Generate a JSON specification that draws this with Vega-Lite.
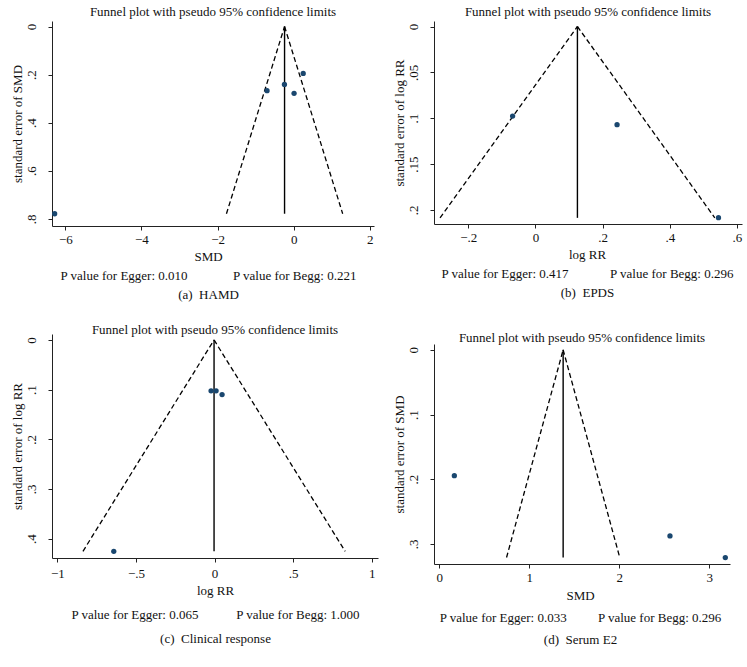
{
  "$schema": "https://vega.github.io/schema/vega-lite/v6.json",
  "padding": {"left": 11, "top": 6, "right": 2, "bottom": 2},
  "background": "white",
  "config": {
    "font": "Liberation Serif, Times New Roman, DejaVu Serif, serif",
    "view": {"stroke": null},
    "axis": {
      "grid": false,
      "domainColor": "#222222",
      "tickColor": "#222222",
      "labelColor": "#111111",
      "titleColor": "#111111",
      "labelFont": "Liberation Serif, Times New Roman, DejaVu Serif, serif",
      "titleFont": "Liberation Serif, Times New Roman, DejaVu Serif, serif",
      "labelFontSize": 13,
      "titleFontSize": 13,
      "titleFontWeight": "normal",
      "tickSize": 4,
      "domainWidth": 1,
      "tickWidth": 1,
      "labelPadding": 3
    },
    "axisY": {"labelAngle": 270, "labelAlign": "center", "labelBaseline": "bottom", "labelPadding": 10, "titlePadding": 1},
    "axisX": {"titlePadding": 4, "titleLineHeight": 19},
    "title": {"font": "Liberation Serif, Times New Roman, DejaVu Serif, serif", "fontSize": 13, "fontWeight": "normal", "color": "#111111", "anchor": "middle", "frame": "group", "offset": 2}
  },
  "datasets": {
    "a": [
      {"part": "pt", "x": -6.28, "se": 0.779},
      {"part": "pt", "x": -0.70, "se": 0.267},
      {"part": "pt", "x": -0.243, "se": 0.241},
      {"part": "pt", "x": 0.01, "se": 0.278},
      {"part": "pt", "x": 0.25, "se": 0.195},
      {"part": "L", "x": -0.24, "se": 0},
      {"part": "L", "x": -1.767, "se": 0.779},
      {"part": "R", "x": -0.24, "se": 0},
      {"part": "R", "x": 1.287, "se": 0.779},
      {"part": "M", "x": -0.24, "se": 0},
      {"part": "M", "x": -0.24, "se": 0.779}
    ],
    "b": [
      {"part": "pt", "x": -0.068, "se": 0.0977},
      {"part": "pt", "x": 0.243, "se": 0.107},
      {"part": "pt", "x": 0.545, "se": 0.2084},
      {"part": "L", "x": 0.125, "se": 0},
      {"part": "L", "x": -0.284, "se": 0.2086},
      {"part": "R", "x": 0.125, "se": 0},
      {"part": "R", "x": 0.534, "se": 0.2086},
      {"part": "M", "x": 0.125, "se": 0},
      {"part": "M", "x": 0.125, "se": 0.2086}
    ],
    "c": [
      {"part": "pt", "x": -0.022, "se": 0.1025},
      {"part": "pt", "x": 0.01, "se": 0.1025},
      {"part": "pt", "x": 0.048, "se": 0.11},
      {"part": "pt", "x": -0.641, "se": 0.4255},
      {"part": "L", "x": -0.003, "se": 0},
      {"part": "L", "x": -0.837, "se": 0.4255},
      {"part": "R", "x": -0.003, "se": 0},
      {"part": "R", "x": 0.831, "se": 0.4255},
      {"part": "M", "x": -0.003, "se": 0},
      {"part": "M", "x": -0.003, "se": 0.4255}
    ],
    "d": [
      {"part": "pt", "x": 0.167, "se": 0.1945},
      {"part": "pt", "x": 2.563, "se": 0.2876},
      {"part": "pt", "x": 3.178, "se": 0.321},
      {"part": "L", "x": 1.376, "se": 0},
      {"part": "L", "x": 0.747, "se": 0.321},
      {"part": "R", "x": 1.376, "se": 0},
      {"part": "R", "x": 2.005, "se": 0.321},
      {"part": "M", "x": 1.376, "se": 0},
      {"part": "M", "x": 1.376, "se": 0.321}
    ]
  },
  "spacing": 15,
  "hconcat": [
    {
      "spacing": 23,
      "vconcat": [
        {
          "width": 322, "height": 205,
          "title": {"text": "Funnel plot with pseudo 95% confidence limits"},
          "data": {"name": "a"},
          "encoding": {
            "x": {"field": "x", "type": "quantitative",
              "scale": {"domain": [-6.35, 2.11], "nice": false, "zero": false},
              "axis": {"values": [-6, -4, -2, 0, 2], "labelExpr": "replace(format(datum.value, '~g'), '0.', '.')",
                "title": ["SMD", "P value for Egger: 0.010\u2003\u2003\u2003\u2002P value for Begg: 0.221", "(a)\u2002HAMD\u2003\u2003\u2003"], "titleX": 156}},
            "y": {"field": "se", "type": "quantitative",
              "scale": {"domain": [-0.023, 0.83], "nice": false, "zero": false, "reverse": true},
              "axis": {"values": [0, 0.2, 0.4, 0.6, 0.8], "labelExpr": "replace(format(datum.value, '~g'), '0.', '.')", "title": "standard error of SMD"}}
          },
          "layer": [
            {"transform": [{"filter": "datum.part == 'L' || datum.part == 'R'"}],
             "mark": {"type": "line", "color": "black", "strokeWidth": 1.3, "strokeDash": [5, 3]},
             "encoding": {"detail": {"field": "part"}}},
            {"transform": [{"filter": "datum.part == 'M'"}],
             "mark": {"type": "line", "color": "black", "strokeWidth": 1.4}},
            {"transform": [{"filter": "datum.part == 'pt'"}],
             "mark": {"type": "circle", "color": "#1a476f", "size": 28, "opacity": 1}}
          ]
        },
        {
          "width": 326, "height": 224,
          "title": {"text": "Funnel plot with pseudo 95% confidence limits", "offset": -3},
          "data": {"name": "c"},
          "encoding": {
            "x": {"field": "x", "type": "quantitative",
              "scale": {"domain": [-1.034, 1.04], "nice": false, "zero": false},
              "axis": {"values": [-1, -0.5, 0, 0.5, 1], "labelExpr": "replace(format(datum.value, '~g'), '0.', '.')",
                "title": ["log RR", "P value for Egger: 0.065\u2003\u2003\u2002\u2009\u2009P value for Begg: 1.000", "(c)\u2002Clinical response\u2003\u2003\u2002"], "titleX": 163, "titleLineHeight": 24, "labelPadding": 5}},
            "y": {"field": "se", "type": "quantitative",
              "scale": {"domain": [-0.012, 0.439], "nice": false, "zero": false, "reverse": true},
              "axis": {"values": [0, 0.1, 0.2, 0.3, 0.4], "labelExpr": "replace(format(datum.value, '~g'), '0.', '.')", "title": "standard error of log RR"}}
          },
          "layer": [
            {"transform": [{"filter": "datum.part == 'L' || datum.part == 'R'"}],
             "mark": {"type": "line", "color": "black", "strokeWidth": 1.3, "strokeDash": [5, 3]},
             "encoding": {"detail": {"field": "part"}}},
            {"transform": [{"filter": "datum.part == 'M'"}],
             "mark": {"type": "line", "color": "black", "strokeWidth": 1.4}},
            {"transform": [{"filter": "datum.part == 'pt'"}],
             "mark": {"type": "circle", "color": "#1a476f", "size": 28, "opacity": 1}}
          ]
        }
      ]
    },
    {
      "spacing": 33,
      "vconcat": [
        {
          "width": 308, "height": 203,
          "title": {"text": "Funnel plot with pseudo 95% confidence limits"},
          "data": {"name": "b"},
          "encoding": {
            "x": {"field": "x", "type": "quantitative",
              "scale": {"domain": [-0.302, 0.615], "nice": false, "zero": false},
              "axis": {"values": [-0.2, 0, 0.2, 0.4, 0.6], "labelExpr": "replace(format(datum.value, '~g'), '0.', '.')",
                "title": ["log RR", "P value for Egger: 0.417\u2003\u2003\u2003\u2009P value for Begg: 0.296", "(b)\u2002EPDS\u2003\u2003\u2003"], "titleX": 153}},
            "y": {"field": "se", "type": "quantitative",
              "scale": {"domain": [-0.006, 0.2153], "nice": false, "zero": false, "reverse": true},
              "axis": {"values": [0, 0.05, 0.1, 0.15, 0.2], "labelExpr": "replace(format(datum.value, '~g'), '0.', '.')", "title": "standard error of log RR"}}
          },
          "layer": [
            {"transform": [{"filter": "datum.part == 'L' || datum.part == 'R'"}],
             "mark": {"type": "line", "color": "black", "strokeWidth": 1.3, "strokeDash": [5, 3]},
             "encoding": {"detail": {"field": "part"}}},
            {"transform": [{"filter": "datum.part == 'M'"}],
             "mark": {"type": "line", "color": "black", "strokeWidth": 1.4}},
            {"transform": [{"filter": "datum.part == 'pt'"}],
             "mark": {"type": "circle", "color": "#1a476f", "size": 28, "opacity": 1}}
          ]
        },
        {
          "width": 296, "height": 220,
          "title": {"text": "Funnel plot with pseudo 95% confidence limits", "offset": -1},
          "data": {"name": "d"},
          "encoding": {
            "x": {"field": "x", "type": "quantitative",
              "scale": {"domain": [-0.059, 3.23], "nice": false, "zero": false},
              "axis": {"values": [0, 1, 2, 3], "labelExpr": "replace(format(datum.value, '~g'), '0.', '.')",
                "title": ["SMD", "P value for Egger: 0.033\u2003\u2003\u2009\u2009P value for Begg: 0.296", "(d)\u2002Serum E2\u2003\u2003"], "titleX": 146, "titleLineHeight": 22, "labelPadding": 3, "titlePadding": 5}},
            "y": {"field": "se", "type": "quantitative",
              "scale": {"domain": [-0.009, 0.331], "nice": false, "zero": false, "reverse": true},
              "axis": {"values": [0, 0.1, 0.2, 0.3], "labelExpr": "replace(format(datum.value, '~g'), '0.', '.')", "title": "standard error of SMD"}}
          },
          "layer": [
            {"transform": [{"filter": "datum.part == 'L' || datum.part == 'R'"}],
             "mark": {"type": "line", "color": "black", "strokeWidth": 1.3, "strokeDash": [5, 3]},
             "encoding": {"detail": {"field": "part"}}},
            {"transform": [{"filter": "datum.part == 'M'"}],
             "mark": {"type": "line", "color": "black", "strokeWidth": 1.4}},
            {"transform": [{"filter": "datum.part == 'pt'"}],
             "mark": {"type": "circle", "color": "#1a476f", "size": 28, "opacity": 1}}
          ]
        }
      ]
    }
  ]
}
